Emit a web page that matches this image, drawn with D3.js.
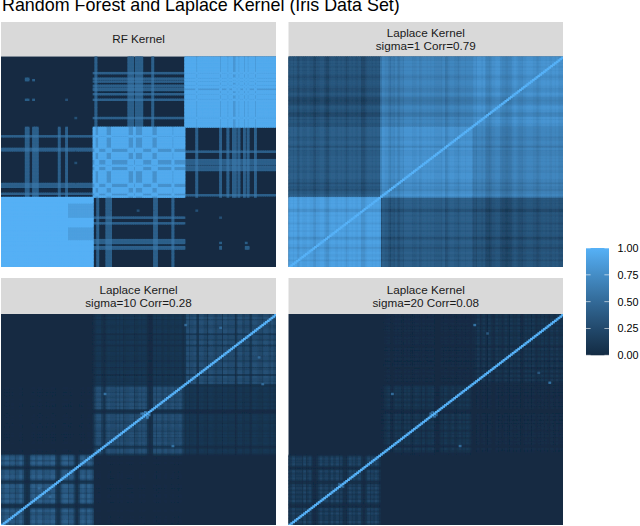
<!DOCTYPE html>
<html>
<head>
<meta charset="utf-8">
<script src="https://cdn.jsdelivr.net/npm/d3@7/dist/d3.min.js"></script>
<style>
  html, body { margin: 0; padding: 0; background: #fff; }
  svg { display: block; }
  text { font-family: "Liberation Sans", Arial, sans-serif; }
</style>
</head>
<body>
<div id="canvas"></div>
<script>
"use strict"

const chartTitle = "Random Forest and Laplace Kernel (Iris Data Set)";
const legendTicks = [0, 0.25, 0.5, 0.75, 1];
const observations = d3.range(1, 151);

// Average level of each species pair (setosa, versicolor, virginica)
const sigma1Levels = [[0.83, 0.36, 0.29], [0.36, 0.74, 0.64], [0.29, 0.64, 0.74]];
const sigma10Levels = [[0.13, 0.003, 0], [0.003, 0.095, 0.032], [0, 0.032, 0.095]];
const sigma20Levels = [[0.07, 0, 0], [0, 0.035, 0.009], [0, 0.009, 0.035]];

// Light/dark stripe of each observation, one digit per observation, 5 is neutral
const sigma1Stripes = "56564365556553355664325665565653565655633356656565"
    + "26553242523536666555635665656555546335665535665666"
    + "35466463323556643322335654435566655345665655656455";
const sigma10Stripes = "77995884779621128977995788699321489958841138975986"
    + "26995317988849595788994779698311295995797789588953"
    + "39588933997719986688299588814996688249987759984977";
const sigma20Stripes = "45946662935821125946853946937221594846931149584962"
    + "11469214968429494369862935869211263964594469385962"
    + "22491493194229662494194659214948294264918429639456";

// Single bright cells [obs, obs, value]
const sigma10Spots = [[101, 143, 0.5], [57, 94, 0.55], [78, 80, 0.65], [79, 81, 0.6], [77, 80, 0.55], [21, 27, 0.5], [120, 141, 0.5]];
const sigma20Spots = [[102, 143, 0.55], [57, 94, 0.5], [78, 80, 0.5], [79, 81, 0.45], [28, 30, 0.4], [109, 137, 0.35]];

// RF kernel: observations whose lines cross the off-diagonal blocks
const rfSetosaLines = [14, 15, 18, 19, 20, 32, 36];
const rfVersicolorToSetosa = [53, 58, 59, 60, 84, 85, 94];
const rfVersicolorToVirginica = [52, 70, 71, 72, 74, 75, 76, 77, 83];
const rfVirginicaLines = [107, 120, 124, 127, 128, 130, 133, 135, 139];
const rfDimCols = d3.range(37, 51);
const rfDimRows = d3.range(20, 30).concat(d3.range(36, 47));
const rfSpots = [[14, 134, 0.4], [15, 134, 0.4], [18, 134, 0.4], [14, 120, 0.4], [15, 120, 0.4], [18, 120, 0.4],
    [36, 120, 0.3], [41, 107, 0.3], [14, 135, 0.4], [15, 135, 0.4], [41, 84, 0.3], [41, 60, 0.3], [41, 75, 0.3]];

const color = d3.scaleLinear()
    .domain([0, 1])
    .range(["#132B43", "#56B1F7"])
    .interpolate(d3.interpolateLab);

let species = function (obs) { return obs <= 50 ? 0 : obs <= 100 ? 1 : 2; };
let digit = function (stripes, obs) { return +stripes[obs - 1]; };

let rfValue = function (i, j) {
    let a = Math.min(i, j), b = Math.max(i, j);
    let ga = species(a), gb = species(b);
    let hit = rfSpots.find(s => s[0] === a && s[1] === b);
    if (hit) return hit[2];
    if (ga === gb) {
        if (ga === 0) return (rfDimCols.includes(j) && rfDimRows.includes(i)) ? 0.88 : 0.99;
        let lines = ga === 1 ? rfVersicolorToSetosa.concat(rfVersicolorToVirginica) : rfVirginicaLines;
        let count = (lines.includes(a) ? 1 : 0) + (lines.includes(b) ? 1 : 0);
        return count === 1 ? (ga === 1 ? 0.78 : 0.82) : 0.95;
    }
    let linesA, linesB;
    if (ga === 0 && gb === 1) { linesA = rfSetosaLines; linesB = rfVersicolorToSetosa; }
    else if (ga === 1 && gb === 2) { linesA = rfVersicolorToVirginica; linesB = rfVirginicaLines; }
    else return 0.005;
    let count = (linesA.includes(a) ? 1 : 0) + (linesB.includes(b) ? 1 : 0);
    return count === 2 ? 0.55 : count === 1 ? 0.42 : 0.005;
};

let stripeValue = function (levels, stripes, spots, multiply) {
    return function (i, j) {
        if (i === j) return 1;
        let a = Math.min(i, j), b = Math.max(i, j);
        let hit = spots.find(s => s[0] === a && s[1] === b);
        if (hit) return hit[2];
        let level = levels[species(i)][species(j)];
        if (multiply) return level * digit(stripes, i) / 5 * digit(stripes, j) / 5;
        return level + 0.035 * (digit(stripes, i) - 5) + 0.035 * (digit(stripes, j) - 5);
    };
};

let panels = [
    { lines: ["RF Kernel"], left: 1, right: 276, stripTop: 22, top: 56.5, bottom: 267, value: rfValue },
    { lines: ["Laplace Kernel", "sigma=1 Corr=0.79"], left: 288.5, right: 563, stripTop: 22, top: 56.5, bottom: 267,
        value: stripeValue(sigma1Levels, sigma1Stripes, [], false) },
    { lines: ["Laplace Kernel", "sigma=10 Corr=0.28"], left: 1, right: 276, stripTop: 278, top: 314, bottom: 525,
        value: stripeValue(sigma10Levels, sigma10Stripes, sigma10Spots, true) },
    { lines: ["Laplace Kernel", "sigma=20 Corr=0.08"], left: 288.5, right: 563, stripTop: 278, top: 314, bottom: 525,
        value: stripeValue(sigma20Levels, sigma20Stripes, sigma20Spots, true) }
];

let drawing = d3.select("#canvas")
    .append("svg")
    .attr("width", 640)
    .attr("height", 526);

let defs = drawing.append("defs");
defs.append("filter")
    .attr("id", "soft")
    .attr("x", 0).attr("y", 0).attr("width", 1).attr("height", 1)
    .append("feGaussianBlur")
    .attr("stdDeviation", 0.4);

// Title, cut off a little by the top edge like the original
drawing.append("text")
    .attr("x", 2)
    .attr("y", 10.5)
    .attr("font-size", 17.9)
    .attr("fill", "#000")
    .text(chartTitle);

panels.forEach(function (panel) {
    let x = d3.scaleBand().domain(observations).range([panel.left, panel.right]);
    let y = d3.scaleBand().domain(observations.slice().reverse()).range([panel.top, panel.bottom]);

    // Strip
    drawing.append("rect")
        .attr("x", panel.left)
        .attr("y", panel.stripTop)
        .attr("width", panel.right - panel.left)
        .attr("height", panel.top - panel.stripTop)
        .attr("fill", "#D9D9D9");
    let middle = (panel.stripTop + panel.top) / 2;
    drawing.append("g")
        .selectAll("text")
        .data(panel.lines)
        .join("text")
        .attr("x", (panel.left + panel.right) / 2)
        .attr("y", (d, n) => middle + 4 + (n - (panel.lines.length - 1) / 2) * 13)
        .attr("text-anchor", "middle")
        .attr("font-size", 11.7)
        .attr("fill", "#1A1A1A")
        .text(d => d);

    // Heat map cells, the lowest ones are left to the panel background.
    // Brightest go last so the overlap of one cell never eats the diagonal.
    let cells = [];
    observations.forEach(function (i) {
        observations.forEach(function (j) {
            let v = panel.value(i, j);
            if (v > 0.008) cells.push({ i: i, j: j, v: v });
        });
    });
    cells.sort((p, q) => p.v - q.v);
    let heat = drawing.append("g").attr("filter", "url(#soft)");
    heat.append("rect")
        .attr("x", panel.left)
        .attr("y", panel.top)
        .attr("width", panel.right - panel.left)
        .attr("height", panel.bottom - panel.top)
        .attr("fill", color(0));
    heat.append("g")
        .selectAll("rect")
        .data(cells)
        .join("rect")
        .attr("x", d => x(d.j))
        .attr("y", d => y(d.i))
        .attr("width", d => d.j === 150 ? x.bandwidth() : x.bandwidth() + 1)
        .attr("height", d => d.i === 1 ? y.bandwidth() : y.bandwidth() + 1)
        .attr("fill", d => color(d.v));
});

// Colour bar
let legendY = d3.scaleLinear().domain([0, 1]).range([355.3, 248]);
let gradient = defs.append("linearGradient")
    .attr("id", "bar")
    .attr("x1", 0).attr("y1", 1).attr("x2", 0).attr("y2", 0);
gradient.selectAll("stop")
    .data(d3.range(0, 1.01, 0.05))
    .join("stop")
    .attr("offset", d => d)
    .attr("stop-color", d => color(d));
drawing.append("rect")
    .attr("x", 586)
    .attr("y", legendY(1))
    .attr("width", 23)
    .attr("height", legendY(0) - legendY(1))
    .attr("fill", "url(#bar)");

let legendTick = drawing.append("g").selectAll("g")
    .data(legendTicks)
    .join("g")
    .attr("transform", d => "translate(0," + legendY(d) + ")");
legendTick.append("line")
    .attr("x1", 586).attr("x2", 590.6)
    .attr("stroke", "#fff").attr("stroke-width", 0.6);
legendTick.append("line")
    .attr("x1", 604.4).attr("x2", 609)
    .attr("stroke", "#fff").attr("stroke-width", 0.6);
legendTick.append("text")
    .attr("x", 617.5)
    .attr("y", 3.9)
    .attr("font-size", 10.8)
    .attr("fill", "#000")
    .text(d => d3.format(".2f")(d));
</script>
</body>
</html>
